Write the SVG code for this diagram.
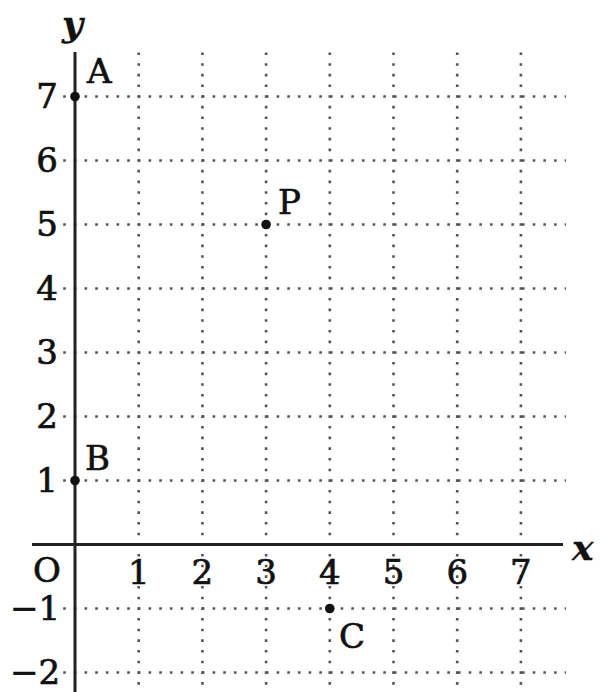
<svg xmlns="http://www.w3.org/2000/svg" width="602" height="692" viewBox="0 0 602 692">
<style>
.grid{stroke:#555;stroke-width:2.6;fill:none}
.gh{stroke-dasharray:2.6 8.07}
.gv{stroke-dasharray:2.6 8.07}
.axis{stroke:#222;stroke-width:3;fill:none}
.pt{fill:#111}
text{font-family:"DejaVu Serif","Liberation Serif",serif;font-size:34px;fill:#111;stroke:#111;stroke-width:0.7}
.n{text-anchor:middle}
.var{font-style:italic;font-weight:bold;font-size:36px;stroke-width:0.3}
</style>
<rect width="602" height="692" fill="#fff"/>
<g id="grid">
<g class="grid gh">
<line x1="63.2" y1="96.5" x2="566" y2="96.5"/>
<line x1="63.2" y1="160.5" x2="566" y2="160.5"/>
<line x1="63.2" y1="224.5" x2="566" y2="224.5"/>
<line x1="63.2" y1="288.5" x2="566" y2="288.5"/>
<line x1="63.2" y1="352.5" x2="566" y2="352.5"/>
<line x1="63.2" y1="416.5" x2="566" y2="416.5"/>
<line x1="63.2" y1="480.5" x2="566" y2="480.5"/>
<line x1="63.2" y1="608.5" x2="566" y2="608.5"/>
<line x1="63.2" y1="672.5" x2="566" y2="672.5"/>
</g>
<g class="grid gv">
<line x1="138.7" y1="52.5" x2="138.7" y2="692"/>
<line x1="202.4" y1="52.5" x2="202.4" y2="692"/>
<line x1="266.1" y1="52.5" x2="266.1" y2="692"/>
<line x1="329.8" y1="52.5" x2="329.8" y2="692"/>
<line x1="393.5" y1="52.5" x2="393.5" y2="692"/>
<line x1="457.2" y1="52.5" x2="457.2" y2="692"/>
<line x1="520.9" y1="52.5" x2="520.9" y2="692"/>
</g>
</g>
<g id="axes">
<line class="axis" x1="32" y1="544.5" x2="563" y2="544.5"/>
<line class="axis" x1="75" y1="52" x2="75" y2="692"/>
<text class="var" x="572" y="560">x</text>
<text class="var" x="62" y="36">y</text>
<text x="33" y="582">O</text>
</g>
<g id="y-labels" class="n">
<text x="47" y="108">7</text>
<text x="47" y="172">6</text>
<text x="47" y="236">5</text>
<text x="47" y="300">4</text>
<text x="47" y="364">3</text>
<text x="47" y="428">2</text>
<text x="47" y="492">1</text>
<text x="35" y="620">−1</text>
<text x="35" y="684">−2</text>
</g>
<g id="x-labels" class="n">
<text x="138.7" y="584">1</text>
<text x="202.4" y="584">2</text>
<text x="266.1" y="584">3</text>
<text x="329.8" y="584">4</text>
<text x="393.5" y="584">5</text>
<text x="457.2" y="584">6</text>
<text x="520.9" y="584">7</text>
</g>
<g id="A"><circle class="pt" cx="75" cy="96.5" r="4.8"/><text x="87" y="83">A</text></g>
<g id="B"><circle class="pt" cx="75" cy="480.5" r="4.8"/><text x="85" y="470">B</text></g>
<g id="P"><circle class="pt" cx="266.1" cy="224.5" r="4.8"/><text x="278" y="214">P</text></g>
<g id="C"><circle class="pt" cx="329.8" cy="608.5" r="4.8"/><text x="339" y="648">C</text></g>
</svg>
